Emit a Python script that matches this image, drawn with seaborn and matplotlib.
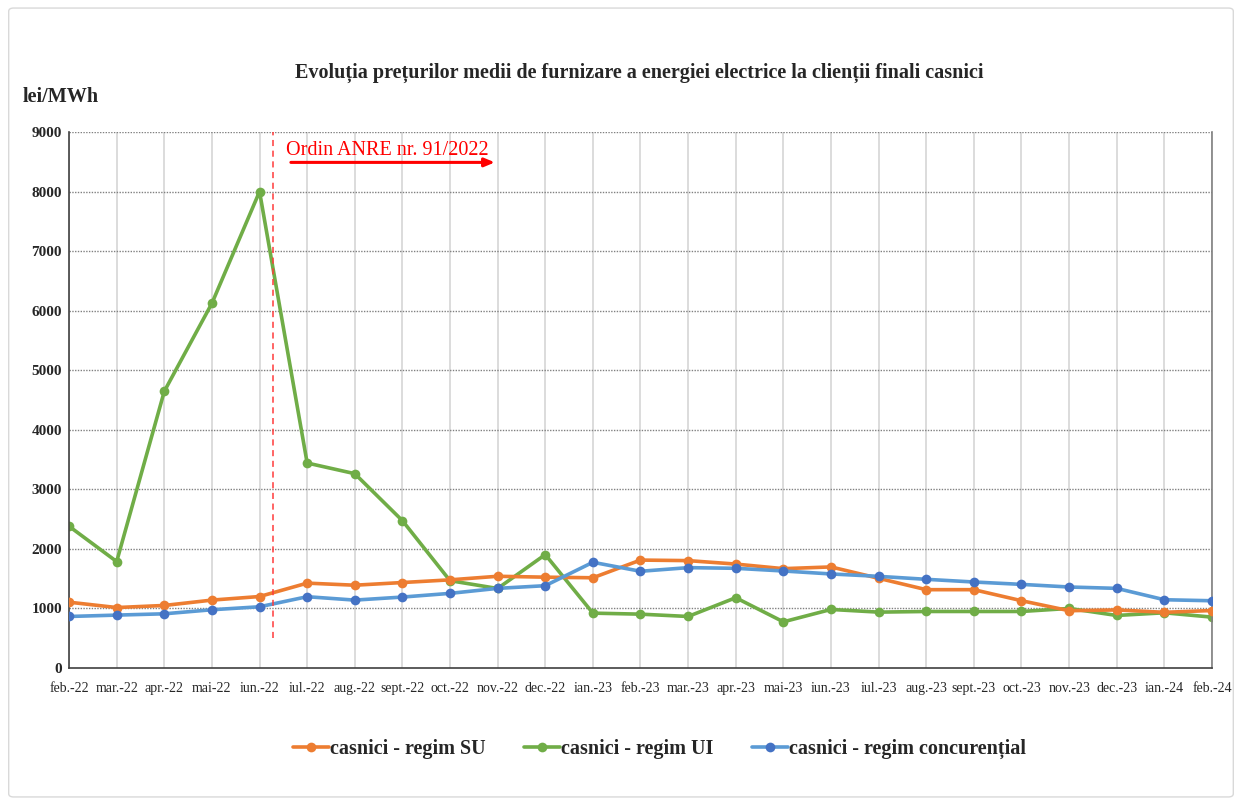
import numpy as np
import pandas as pd
import matplotlib
matplotlib.use("Agg")
import matplotlib.pyplot as plt
from matplotlib.lines import Line2D
from matplotlib.patches import FancyBboxPatch
import seaborn as sns

sns.set_style("white")
plt.rcParams['font.family'] = ['Liberation Serif', 'DejaVu Serif']

# luni (feb. 2022 - feb. 2024)
luni = ["feb.-22", "mar.-22", "apr.-22", "mai-22", "iun.-22", "iul.-22", "aug.-22",
        "sept.-22", "oct.-22", "nov.-22", "dec.-22", "ian.-23", "feb.-23", "mar.-23",
        "apr.-23", "mai-23", "iun.-23", "iul.-23", "aug.-23", "sept.-23", "oct.-23",
        "nov.-23", "dec.-23", "ian.-24", "feb.-24"]

regim_su = [1105, 1015, 1050, 1140, 1200, 1425, 1390, 1435, 1480, 1540, 1525, 1515,
            1812, 1803, 1745, 1668, 1697, 1506, 1315, 1315, 1130, 962, 975, 935, 965]
regim_ui = [2380, 1787, 4646, 6124, 8000, 3442, 3263, 2474, 1466, 1335, 1904, 921,
            904, 865, 1180, 775, 983, 938, 949, 949, 949, 1000, 882, 927, 854]
regim_conc = [865, 888, 910, 978, 1028, 1197, 1140, 1191, 1253, 1337, 1382, 1775,
              1624, 1685, 1674, 1629, 1579, 1539, 1489, 1444, 1404, 1360, 1337, 1146, 1129]

df = pd.DataFrame({"x": np.arange(len(luni)), "su": regim_su, "ui": regim_ui, "conc": regim_conc})

fig = plt.figure(figsize=(12.42, 8.05), dpi=100)
ax = fig.add_axes([0.0556, 0.1702, 0.9202, 0.6658])

# chenarul graficului
fig.patches.append(FancyBboxPatch((0.007, 0.01), 0.986, 0.98, boxstyle="round,pad=0,rounding_size=0.004",
                                  transform=fig.transFigure, fill=False, edgecolor="#D9D9D9", linewidth=1))

# grid
for i in range(len(luni)):
    ax.axvline(i, color="#D9D9D9", linewidth=1.3, zorder=0)
for v in range(1000, 10000, 1000):
    ax.axhline(v, color="#808080", linewidth=1.0, linestyle=(0, (1, 1)), zorder=0)

lw = 2.6
ms = 7
sns.lineplot(data=df, x="x", y="su", ax=ax, color="#ED7D31", linewidth=lw, marker="o",
             markersize=ms, markeredgewidth=0, zorder=3)
sns.lineplot(data=df, x="x", y="ui", ax=ax, color="#70AD47", linewidth=lw, marker="o",
             markersize=ms, markeredgewidth=0, zorder=2)
sns.lineplot(data=df, x="x", y="conc", ax=ax, color="#5B9BD5", linewidth=lw, marker="o",
             markersize=ms, markerfacecolor="#4472C4", markeredgewidth=0, zorder=4)

# Ordin ANRE
ax.plot([4.29, 4.29], [500, 9000], color="#FF3B3B", linestyle=(0, (4, 3)), linewidth=1.1, zorder=5)
ax.text(4.55, 8690, "Ordin ANRE nr. 91/2022", color="red", fontsize=14.5, va="center", ha="left")
ax.annotate("", xy=(9.0, 8490), xytext=(4.6, 8490),
            arrowprops=dict(arrowstyle="-|>,head_length=0.6,head_width=0.25", color="red", lw=2.2))

ax.set_xlim(0, len(luni) - 1)
ax.set_ylim(0, 9000)
ax.set_xticks(np.arange(len(luni)))
ax.set_xticklabels(luni, fontsize=10)
ax.set_yticks(range(0, 10000, 1000))
ax.set_yticklabels([str(v) for v in range(0, 10000, 1000)], fontsize=11, fontweight="bold")
ax.tick_params(axis="both", length=0)
ax.tick_params(axis="x", pad=10)
ax.tick_params(axis="y", pad=5)
ax.set_xlabel("")
ax.set_ylabel("")

ax.spines["top"].set_visible(False)
for s in ["left", "bottom", "right"]:
    ax.spines[s].set_color("#404040")
    ax.spines[s].set_linewidth(1.2)
ax.spines["right"].set_color("#808080")

fig.text(0.515, 0.91, "Evoluția prețurilor medii de furnizare a energiei electrice la clienții finali casnici",
         ha="center", va="center", fontsize=14.5, fontweight="bold")
fig.text(0.018, 0.88, "lei/MWh", ha="left", va="center", fontsize=14.5, fontweight="bold")

handles = [
    Line2D([], [], color="#ED7D31", linewidth=lw, marker="o", markersize=ms, markeredgewidth=0),
    Line2D([], [], color="#70AD47", linewidth=lw, marker="o", markersize=ms, markeredgewidth=0),
    Line2D([], [], color="#5B9BD5", linewidth=lw, marker="o", markersize=ms,
           markerfacecolor="#4472C4", markeredgewidth=0),
]
labels = ["casnici - regim SU", "casnici - regim UI", "casnici - regim concurențial"]
fig.legend(handles, labels, loc="center", bbox_to_anchor=(0.531, 0.07), ncol=3, frameon=False,
           prop={"size": 14.5, "weight": "bold"}, handlelength=1.8, handletextpad=0.05, columnspacing=1.9)

fig.savefig("out.png", dpi=100)
